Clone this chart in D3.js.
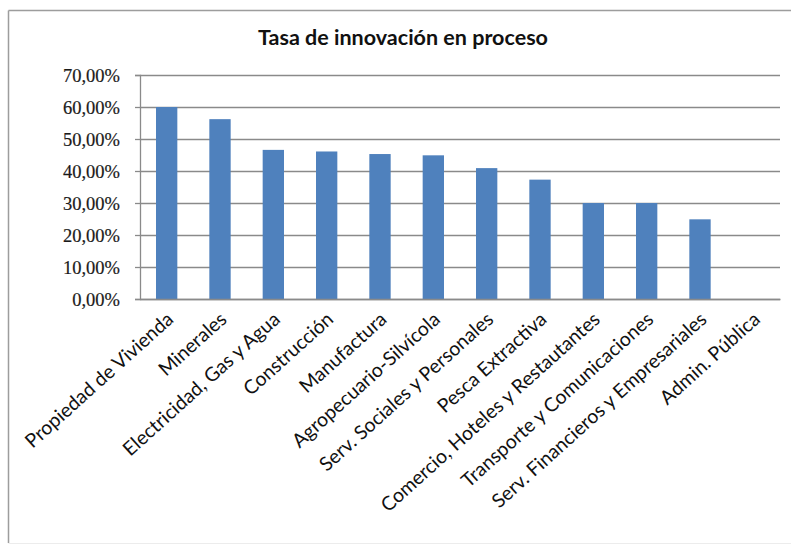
<!DOCTYPE html>
<html>
<head>
<meta charset="utf-8">
<script src="https://cdn.jsdelivr.net/npm/d3@7"></script>
<style>
  html, body { margin: 0; padding: 0; background: #fff; }
  svg { display: block; }
</style>
</head>
<body>
<svg id="chart" width="791" height="546"></svg>
<script>
// Sectors and their process-innovation rate
const categories = [
  "Propiedad de Vivienda",
  "Minerales",
  "Electricidad, Gas y Agua",
  "Construcción",
  "Manufactura",
  "Agropecuario-Silvícola",
  "Serv. Sociales y Personales",
  "Pesca Extractiva",
  "Comercio, Hoteles y Restautantes",
  "Transporte y Comunicaciones",
  "Serv. Financieros y Empresariales",
  "Admin. Pública"
];
const values = [0.600, 0.562, 0.466, 0.461, 0.453, 0.449, 0.409, 0.373, 0.300, 0.300, 0.249, 0];
const yTicks = [0, 0.1, 0.2, 0.3, 0.4, 0.5, 0.6, 0.7];
const title = "Tasa de innovación en proceso";

const svg = d3.select("#chart");

// Chart frame
svg.append("line").attr("x1", 8.5).attr("y1", 10.5).attr("x2", 791).attr("y2", 10.5)
  .attr("stroke", "#9d9d9d").attr("stroke-width", 1.5);
svg.append("line").attr("x1", 8.5).attr("y1", 10.5).attr("x2", 8.5).attr("y2", 543)
  .attr("stroke", "#9d9d9d").attr("stroke-width", 1.5);
svg.append("line").attr("x1", 8.5).attr("y1", 543.5).attr("x2", 791).attr("y2", 543.5)
  .attr("stroke", "#ececec").attr("stroke-width", 1);

const plot = { left: 140, right: 780, top: 75, bottom: 299 };

const x = d3.scaleBand()
  .domain(categories)
  .range([plot.left, plot.right])
  .paddingInner(0.6)
  .paddingOuter(0.3);

const y = d3.scaleLinear()
  .domain([0, 0.7])
  .range([plot.bottom, plot.top]);

const locale = d3.formatLocale({ decimal: ",", thousands: ".", grouping: [3], currency: ["", "€"] });
const pct = locale.format(".2%");

// Title
const t = svg.append("text")
  .attr("x", 403).attr("y", 45)
  .attr("text-anchor", "middle")
  .attr("font-family", "Lato, 'Open Sans', sans-serif")
  .attr("font-weight", "bold")
  .attr("font-size", 18)
  .attr("fill", "#111")
  .text(title);
// fit the title to its Calibri-like width
const tw = t.node().getComputedTextLength();
t.attr("font-size", 18 * 290 / tw);

// Gridlines
const yAxisGrid = d3.axisLeft(y).tickValues(yTicks).tickSize(-(plot.right - plot.left)).tickFormat("");
svg.append("g")
  .attr("transform", `translate(${plot.left},0)`)
  .call(yAxisGrid)
  .call(g => g.select(".domain").remove())
  .call(g => g.selectAll(".tick line").attr("stroke", "#8a8a8a").attr("stroke-width", 1.3));

// Y axis: short outer tick stubs and labels
const yAxis = d3.axisLeft(y).tickValues(yTicks).tickSize(5).tickPadding(15).tickFormat(pct);
svg.append("g")
  .attr("transform", `translate(${plot.left},0)`)
  .call(yAxis)
  .call(g => g.select(".domain").attr("stroke", "#8a8a8a").attr("stroke-width", 1.3))
  .call(g => g.selectAll(".tick line").attr("stroke", "#8a8a8a").attr("stroke-width", 1.3))
  .call(g => g.selectAll(".tick text")
    .attr("font-family", "'Liberation Serif', 'Times New Roman', serif")
    .attr("font-size", 18.5)
    .attr("fill", "#1a1a1a")
    .attr("stroke", "#1a1a1a")
    .attr("stroke-width", 0.2)
    .attr("dy", "0.33em"));

// Bars
svg.append("g")
  .selectAll("rect")
  .data(values)
  .join("rect")
  .attr("x", (d, i) => x(categories[i]))
  .attr("width", x.bandwidth())
  .attr("y", d => y(d))
  .attr("height", d => y(0) - y(d))
  .attr("fill", "#4f81bd");

// X axis with rotated category labels
const xAxis = d3.axisBottom(x).tickSize(0).tickPadding(0);
const gx = svg.append("g")
  .attr("transform", `translate(0,${plot.bottom})`)
  .call(xAxis);
gx.select(".domain").attr("stroke", "#8a8a8a").attr("stroke-width", 1.3);
const labels = gx.selectAll(".tick text")
  .attr("font-family", "Lato, 'Open Sans', sans-serif")
  .attr("font-size", 16)
  .attr("fill", "#111")
  .attr("text-anchor", "end")
  .attr("dy", 0)
  .attr("y", 0)
  .attr("transform", "translate(8,22) rotate(-42)");
// scale the label font so the longest label keeps its Calibri-like length
let longest = 0;
labels.each(function () { longest = Math.max(longest, this.getComputedTextLength()); });
labels.attr("font-size", 16 * 287 / longest);
</script>
</body>
</html>
